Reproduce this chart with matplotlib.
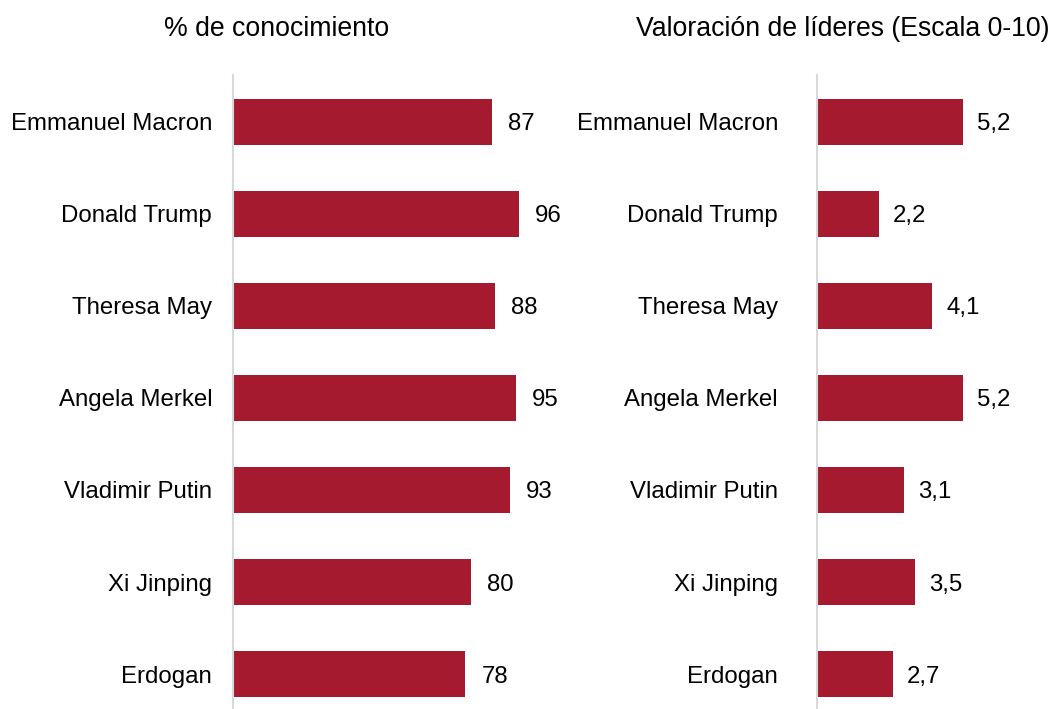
import matplotlib.pyplot as plt

# leaders and the two measures
lideres = ["Emmanuel Macron", "Donald Trump", "Theresa May", "Angela Merkel",
           "Vladimir Putin", "Xi Jinping", "Erdogan"]
conocimiento = [87, 96, 88, 95, 93, 80, 78]
valoracion = [5.2, 2.2, 4.1, 5.2, 3.1, 3.5, 2.7]

ROJO = "#A61A2F"
plt.rcParams['font.family'] = ['Liberation Sans', 'DejaVu Sans']

fig = plt.figure(figsize=(10.54, 7.09), dpi=100)
W, H = 1054.0, 709.0

def make_ax(x0, x1):
    # axes placed in pixel coordinates: top at 75px, bottom at 709px
    return fig.add_axes([x0 / W, 0.0, (x1 - x0) / W, (H - 75) / H])

ax1 = make_ax(233, 560)
ax2 = make_ax(817, 1054)

pos = list(range(len(lideres)))

def draw(ax, vals, xmax, fmt, pad, gap):
    ax.barh(pos, vals, height=0.5, color=ROJO)
    ax.set_xlim(0, xmax)
    ax.set_ylim(6.38, -0.51)
    ax.set_yticks(pos)
    ax.set_yticklabels(lideres, fontsize=17.3)
    ax.tick_params(axis='y', length=0, pad=pad)
    ax.set_xticks([])
    for s in ['top', 'right', 'bottom']:
        ax.spines[s].set_visible(False)
    ax.spines['left'].set_color('#D9D9D9')
    ax.spines['left'].set_linewidth(1.5)
    for p, v in zip(pos, vals):
        ax.annotate(fmt(v), (v, p), xytext=(gap, 0), textcoords='offset pixels',
                    va='center_baseline', ha='left', fontsize=17.3, color='black')

draw(ax1, conocimiento, 327 / 2.98, lambda v: f"{v}", 15, 16)
draw(ax2, valoracion, 237 / 28.1, lambda v: f"{v:.1f}".replace('.', ','), 28, 14)

fig.text(277 / W, 1 - 29 / H, "% de conocimiento", ha='center', va='center', fontsize=19.2)
fig.text(843 / W, 1 - 29 / H, "Valoración de líderes (Escala 0-10)", ha='center',
         va='center', fontsize=19.2)

fig.savefig("out.png", dpi=100)
